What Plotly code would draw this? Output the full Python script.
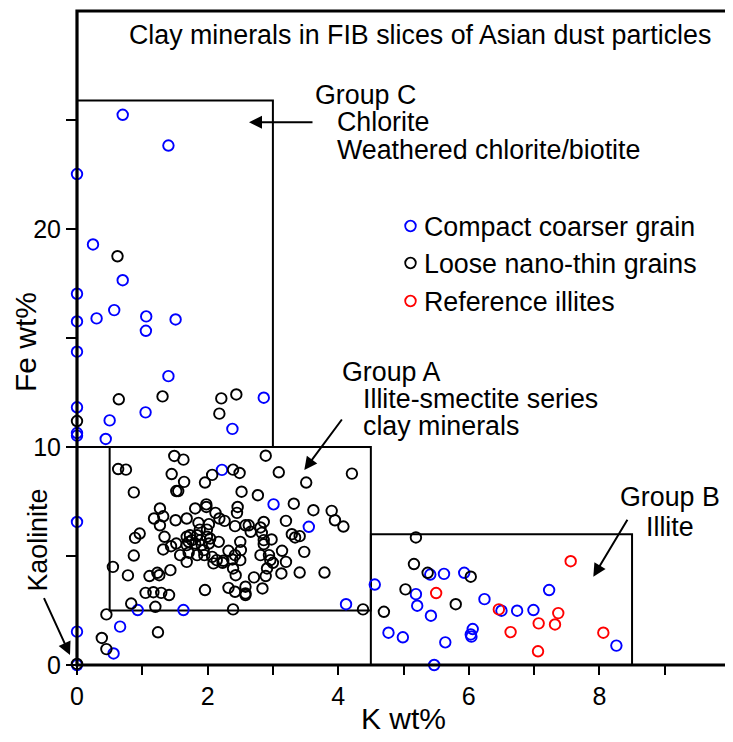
import plotly.graph_objects as go

# ---------------- data (K wt%, Fe wt%) ----------------
compact_k = [0.70, 1.40, 0.00, 0.245, 0.70, 0.00, 0.00, 0.30, 0.57, 1.06, 1.055, 1.51, 0.00, 1.40,
             2.86, 0.00, 1.05, 0.50, 2.38, 0.00, 0.00, 0.44,
             2.22, 3.01, 3.55, 0.00, 0.93, 1.63, 0.66, 0.00, 0.56, 0.00, 4.12,
             4.56, 5.41, 5.62, 5.93, 5.19, 5.21, 5.42, 6.24, 6.50, 6.74, 6.99, 7.23,
             4.77, 4.99, 5.64, 6.06, 6.03, 6.04, 5.47, 8.26]
compact_fe = [25.24, 23.83, 22.52, 19.29, 17.65, 17.03, 15.76, 15.90, 16.28, 15.99, 15.33, 15.85, 14.37, 13.25,
              12.26, 11.82, 11.59, 11.22, 10.83, 10.64, 10.52, 10.37,
              8.95, 7.37, 6.34, 6.56, 2.52, 2.52, 1.76, 1.53, 0.53, 0.00, 2.79,
              3.69, 4.15, 4.18, 4.23, 3.25, 2.72, 2.26, 3.02, 2.49, 2.49, 2.52, 3.44,
              1.48, 1.27, 1.04, 1.65, 1.40, 1.30, 0.00, 0.89]

loose_k = [0.62, 0.64, 1.31, 2.21, 2.44, 2.18, 0.00,
           1.49, 1.63, 2.89, 0.63, 0.75, 1.45, 1.64, 1.52, 1.55, 1.96, 2.07, 2.39, 2.49, 2.52,
           3.09, 3.51, 4.21, 0.87, 2.77, 3.32, 3.62, 3.90, 3.95, 4.08, 1.81, 1.98, 1.98, 2.12,
           2.18, 2.26, 2.46, 2.45, 3.20, 1.27, 1.18, 1.32, 1.27, 1.51, 1.68, 0.96, 0.89, 0.87,
           1.34, 1.32, 1.44, 1.52, 1.68, 1.86, 2.02, 1.88, 1.99, 1.73, 1.84, 1.99, 1.71, 1.81,
           1.91, 2.02, 2.17, 1.58, 1.71, 1.84, 1.95, 2.07, 2.14, 2.09, 1.68, 2.24, 2.32, 2.42,
           2.51, 2.50, 2.42, 2.58, 2.66, 2.81, 2.86, 2.83, 2.98, 2.86, 2.81, 2.96, 3.00, 2.91,
           2.89, 3.14, 3.20, 3.13, 3.29, 3.34, 3.41, 3.48, 3.41, 3.79, 2.38, 2.39, 2.43, 2.32,
           2.42, 2.58, 2.58, 2.58, 2.71, 2.84, 0.55, 0.78, 1.11, 1.23, 1.26, 1.43, 1.05, 1.17,
           1.29, 1.41, 1.96, 0.83, 1.20, 2.39, 0.45, 1.24, 0.38, 0.45, 0.00, 4.38,
           1.68, 1.76, 1.89, 1.94, 2.04, 2.23, 2.50, 2.63, 2.86, 2.94,
           5.19, 5.16, 5.37, 6.03, 5.03, 5.80, 4.70]
loose_fe = [18.75, 12.19, 12.32, 12.23, 12.41, 11.53, 11.19,
            9.59, 9.42, 9.60, 8.99, 8.96, 8.76, 8.40, 7.98, 7.98, 8.37, 8.72, 8.96, 8.81, 7.95,
            8.84, 8.37, 8.78, 7.92, 7.79, 7.40, 7.10, 7.07, 6.64, 6.35, 7.18, 7.37, 7.25, 6.98,
            6.72, 6.61, 7.25, 6.98, 6.61, 7.18, 6.72, 6.82, 6.41, 6.64, 6.72, 6.03, 5.83, 5.02,
            5.88, 5.30, 5.45, 5.57, 5.88, 6.52, 6.46, 6.21, 6.21, 5.95, 5.95, 5.88, 5.65, 5.57,
            5.50, 5.57, 5.65, 5.04, 5.15, 5.04, 5.04, 4.96, 4.81, 4.66, 4.73, 4.78, 5.24, 5.04,
            5.27, 5.65, 6.37, 6.41, 6.11, 6.31, 6.56, 6.06, 5.76, 5.54, 5.04, 4.81, 4.69, 4.43,
            4.08, 5.24, 4.73, 4.20, 6.00, 5.85, 5.91, 5.19, 4.24, 4.24, 4.84, 4.43, 4.12, 3.54,
            3.36, 3.59, 3.28, 3.21, 4.02, 3.51, 4.50, 4.11, 4.08, 4.23, 4.12, 4.35, 3.31, 3.34,
            3.31, 3.21, 3.44, 2.82, 2.67, 2.55, 2.32, 1.50, 1.24, 0.73, 0.05, 2.55,
            5.50, 5.73, 5.73, 5.27, 5.80, 4.69, 4.81, 6.41, 5.73, 5.04,
            5.85, 4.63, 4.23, 4.05, 3.47, 2.79, 2.44]

ref_k = [7.56, 5.50, 6.46, 7.37, 7.07, 7.32, 6.64, 8.06, 7.06]
ref_fe = [4.76, 3.30, 2.55, 2.38, 1.91, 1.86, 1.51, 1.48, 0.63]

# group boxes: (K min, K max, Fe min, Fe max)
box_c = (0.0, 3.0, 10.0, 25.9)
box_a = (0.5, 4.5, 2.5, 10.0)
box_b = (4.5, 8.5, 0.0, 6.0)

series = [("Compact coarser grain", compact_k, compact_fe, "#0000FF"),
          ("Loose nano-thin grains", loose_k, loose_fe, "#000000"),
          ("Reference illites", ref_k, ref_fe, "#FF0000")]

# ---------------- layout geometry ----------------
# the page body has an 8px margin, so the figure is shrunk by that offset
OFF = 8
W, H = 733 - OFF, 742 - OFF
L, R, T, B = 77, 730, 11, 665          # plot area in window pixels
FONT = "Liberation Sans, Arial, Helvetica, sans-serif"
TXT = 26.8


def px(x):
    return (x - L) / (R - L)


def py(y):
    return (B - y) / (B - T)


fig = go.Figure()

for name, xs, ys, col in series:
    fig.add_trace(go.Scatter(
        x=xs, y=ys, mode="markers", name=name, showlegend=False,
        marker=dict(symbol="circle-open", size=10.5, color=col, line=dict(width=1.9, color=col)),
        cliponaxis=False,
    ))

shapes = []
for (x0, x1, y0, y1) in (box_c, box_a, box_b):
    shapes.append(dict(type="rect", xref="x", yref="y", x0=x0, x1=x1, y0=y0, y1=y1,
                       line=dict(color="black", width=2), layer="below"))
# outer frame
shapes.append(dict(type="rect", xref="paper", yref="paper", x0=0, x1=1, y0=0, y1=1,
                   line=dict(color="black", width=3.2), layer="above"))

# legend markers
leg_y = [226, 263, 301]
for (name, xs, ys, col), yy in zip(series, leg_y):
    shapes.append(dict(type="circle", xref="paper", yref="paper", xsizemode="pixel", ysizemode="pixel",
                       xanchor=px(410.5), yanchor=py(yy), x0=-5.3, x1=5.3, y0=-5.3, y1=5.3,
                       line=dict(color=col, width=1.8)))

ann = []


def text(t, x, y, xanchor="left", size=TXT, angle=0):
    ann.append(dict(text=t, xref="paper", yref="paper", x=px(x), y=py(y), xanchor=xanchor,
                    yanchor="middle", showarrow=False, textangle=angle,
                    font=dict(family=FONT, size=size, color="black")))


text("Clay minerals in FIB slices of Asian dust particles", 127, 35)
text("Group C", 313, 95)
text("Chlorite", 335, 122)
text("Weathered chlorite/biotite", 335, 150)
text("Group A", 340, 372)
text("Illite-smectite series", 361, 399)
text("clay minerals", 361, 426)
text("Group B", 670, 497, xanchor="center")
text("Illite", 670, 527, xanchor="center")
text("Kaolinite", 37.5, 540, xanchor="center", angle=-90)
for (name, xs, ys, col), yy in zip(series, leg_y):
    text(name, 422, yy + 1)
text("Fe wt%", 25, 342, xanchor="center", size=30, angle=-90)
text("K wt%", 403, 718, xanchor="center", size=30)


def arrow(hx, hy, tx, ty):
    ann.append(dict(text="", xref="paper", yref="paper", x=px(hx), y=py(hy),
                    ax=tx - hx, ay=ty - hy, axref="pixel", ayref="pixel",
                    showarrow=True, arrowhead=2, arrowsize=1.3, arrowwidth=2, arrowcolor="black",
                    standoff=0, startstandoff=0))


arrow(249, 122.3, 314, 122.3)
arrow(304.3, 470, 343, 418)
arrow(593.3, 576.7, 628.3, 518.3)
arrow(70, 655, 43.3, 596.7)

fig.update_layout(
    width=W, height=H,
    margin=dict(l=L - OFF, r=W - (R - OFF), t=T - OFF, b=H - (B - OFF), pad=0),
    paper_bgcolor="white", plot_bgcolor="white",
    font=dict(family=FONT, size=25, color="black"),
    shapes=shapes, annotations=ann, showlegend=False,
)
fig.update_xaxes(range=[0, 10], tickvals=[0, 2, 4, 6, 8], ticktext=["0", "2", "4", "6", "8"],
                 ticks="outside", ticklen=9, tickwidth=2, tickcolor="black",
                 minor=dict(tickvals=[1, 3, 5, 7, 9], ticks="outside", ticklen=9, tickwidth=2, tickcolor="black"),
                 showgrid=False, zeroline=False, showline=False,
                 tickfont=dict(family=FONT, size=25, color="black"))
fig.update_yaxes(range=[0, 30], tickvals=[0, 10, 20], ticktext=["0", "10", "20"],
                 ticks="outside", ticklen=10, tickwidth=2, tickcolor="black",
                 minor=dict(tickvals=[5, 15, 25], ticks="outside", ticklen=10, tickwidth=2, tickcolor="black"),
                 showgrid=False, zeroline=False, showline=False,
                 tickfont=dict(family=FONT, size=25, color="black"))

fig.write_html("out.html")
